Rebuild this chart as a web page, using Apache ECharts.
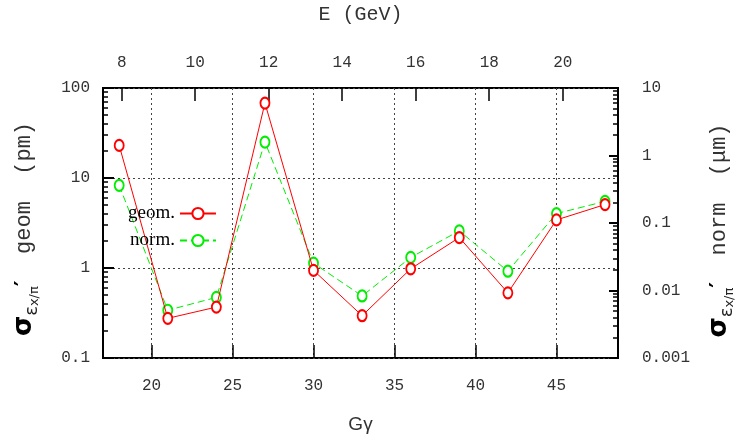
<!DOCTYPE html>
<html>
<head>
<meta charset="utf-8">
<script src="https://cdn.jsdelivr.net/npm/echarts@6/dist/echarts.min.js"></script>
<style>html,body{margin:0;padding:0;background:#fff;}#c{width:753px;height:444px;}</style>
</head>
<body>
<div id="c"></div>
<script>
// ---- data ----
const gammaG = [18, 21, 24, 27, 30, 33, 36, 39, 42, 45, 48];
const geomPm = [23, 0.276, 0.368, 68, 0.94, 0.295, 0.98, 2.18, 0.53, 3.42, 5.07];   // left axis (pm)
const normUm = [0.361, 0.0051, 0.0079, 1.58, 0.0254, 0.0083, 0.0309, 0.0764, 0.0193, 0.138, 0.209]; // right axis (μm)
const bottomTicks = [20, 25, 30, 35, 40, 45];
const topTicksE = [8, 10, 12, 14, 16, 18, 20];
const leftMinor = [0.2,0.3,0.4,0.5,0.6,0.7,0.8,0.9,2,3,4,5,6,7,8,9,20,30,40,50,60,70,80,90];
const rightMinor = [0.002,0.003,0.004,0.005,0.006,0.007,0.008,0.009,0.02,0.03,0.04,0.05,0.06,0.07,0.08,0.09,0.2,0.3,0.4,0.5,0.6,0.7,0.8,0.9,2,3,4,5,6,7,8,9];
const xMin = 17, xMax = 48.8;
const eGeVPerGgamma = 0.44065;

const mono = 'Liberation Mono';
const txt = '#333';
const dotted = {show: true, lineStyle: {color: '#444', width: 1, type: [2, 3]}};
const noLine = {show: false, onZero: false};

const chart = echarts.init(document.getElementById('c'), null, {renderer: 'canvas'});

function titleRich() {
  return {
    s: {fontFamily: 'DejaVu Sans', fontWeight: 'bold', fontSize: 26, color: '#000', lineHeight: 30, verticalAlign: 'middle'},
    e: {fontFamily: 'DejaVu Sans', fontSize: 18, color: '#222', verticalAlign: 'bottom', lineHeight: 34},
    x: {fontFamily: 'DejaVu Sans', fontSize: 13, color: '#222', verticalAlign: 'bottom', lineHeight: 30},
    c: {fontFamily: 'DejaVu Sans', fontWeight: 'bold', fontSize: 22, color: '#000', verticalAlign: 'middle', lineHeight: 30},
    t: {fontFamily: mono, fontSize: 22, color: txt, verticalAlign: 'middle', lineHeight: 30}
  };
}

const option = {
  animation: false,
  backgroundColor: '#fff',
  grid: {left: 103, right: 135, top: 77, bottom: 86, show: true, borderColor: '#000', borderWidth: 2, backgroundColor: 'transparent'},
  legend: {
    orient: 'vertical', left: 123, top: 199, align: 'right', itemWidth: 36, itemHeight: 14, itemGap: 8,
    textStyle: {fontFamily: 'Liberation Serif', fontSize: 19, color: '#000'},
    data: ['geom.', 'norm.']
  },
  xAxis: [
    {
      type: 'value', position: 'bottom', min: xMin, max: xMax,
      name: 'Gγ', nameLocation: 'middle', nameGap: 57,
      nameTextStyle: {fontFamily: 'Liberation Sans', fontSize: 19, color: txt},
      axisLine: noLine,
      axisTick: {show: true, inside: true, length: 13, customValues: bottomTicks, lineStyle: {color: '#000', width: 1.5}},
      axisLabel: {customValues: bottomTicks, margin: 20, fontFamily: mono, fontSize: 16, color: txt},
      splitLine: dotted
    },
    {
      type: 'value', position: 'top', min: xMin * eGeVPerGgamma, max: xMax * eGeVPerGgamma,
      name: 'E (GeV)', nameLocation: 'middle', nameGap: 63,
      nameTextStyle: {fontFamily: mono, fontSize: 20, color: txt},
      axisLine: noLine,
      axisTick: {show: true, inside: true, length: 13, customValues: topTicksE, lineStyle: {color: '#000', width: 1.5}},
      axisLabel: {customValues: topTicksE, margin: 17, fontFamily: mono, fontSize: 16, color: txt},
      splitLine: {show: false}
    }
  ],
  yAxis: [
    {
      type: 'log', logBase: 10, position: 'left', min: 0.1, max: 100,
      name: '{s|σ}{e|ε}{x|x/π}{c|′}{t|  geom  (pm)}', nameLocation: 'middle', nameRotate: 90, nameGap: 62,
      nameTextStyle: {rich: titleRich(), padding: [0, 12, 0, 0]},
      axisLine: noLine,
      axisTick: {show: true, inside: true, length: 11, lineStyle: {color: '#000', width: 2}},
      axisLabel: {margin: 13, fontFamily: mono, fontSize: 16, color: txt},
      splitLine: dotted
    },
    {
      type: 'log', logBase: 10, position: 'right', min: 0.001, max: 10,
      name: '{s|σ}{e|ε}{x|x/π}{c|′}{t|  norm  (μm)}', nameLocation: 'middle', nameRotate: 90, nameGap: 84,
      nameTextStyle: {rich: titleRich(), padding: [0, 15, 0, 0]},
      axisLine: noLine,
      axisTick: {show: true, inside: true, length: 9, lineStyle: {color: '#000', width: 2}},
      axisLabel: {margin: 24, fontFamily: mono, fontSize: 16, color: txt},
      splitLine: {show: false}
    },
    {
      type: 'value', position: 'left', min: Math.log10(0.1), max: Math.log10(100),
      axisLine: noLine,
      axisTick: {show: true, inside: true, length: 5, customValues: leftMinor.map(Math.log10), lineStyle: {color: '#000', width: 1.5}},
      axisLabel: {show: false},
      splitLine: {show: false}
    },
    {
      type: 'value', position: 'right', min: Math.log10(0.001), max: Math.log10(10),
      axisLine: noLine,
      axisTick: {show: true, inside: true, length: 5, customValues: rightMinor.map(Math.log10), lineStyle: {color: '#000', width: 1.5}},
      axisLabel: {show: false},
      splitLine: {show: false}
    }
  ],
  series: [
    {
      name: 'geom.', type: 'line', xAxisIndex: 0, yAxisIndex: 0,
      data: gammaG.map((g, i) => [g, geomPm[i]]),
      symbol: 'emptyCircle', symbolSize: [9, 11],
      lineStyle: {color: '#ff0000', width: 1},
      itemStyle: {color: '#ff0000', borderColor: '#ff0000', borderWidth: 1},
      color: '#ff0000', z: 3
    },
    {
      name: 'norm.', type: 'line', xAxisIndex: 0, yAxisIndex: 1,
      data: gammaG.map((g, i) => [g, normUm[i]]),
      symbol: 'emptyCircle', symbolSize: [9, 11],
      lineStyle: {color: '#00ee00', width: 1, type: [7, 4]},
      itemStyle: {color: '#00ee00', borderColor: '#00ee00', borderWidth: 1},
      color: '#00ee00', z: 2
    }
  ]
};
chart.setOption(option);
</script>
</body>
</html>
